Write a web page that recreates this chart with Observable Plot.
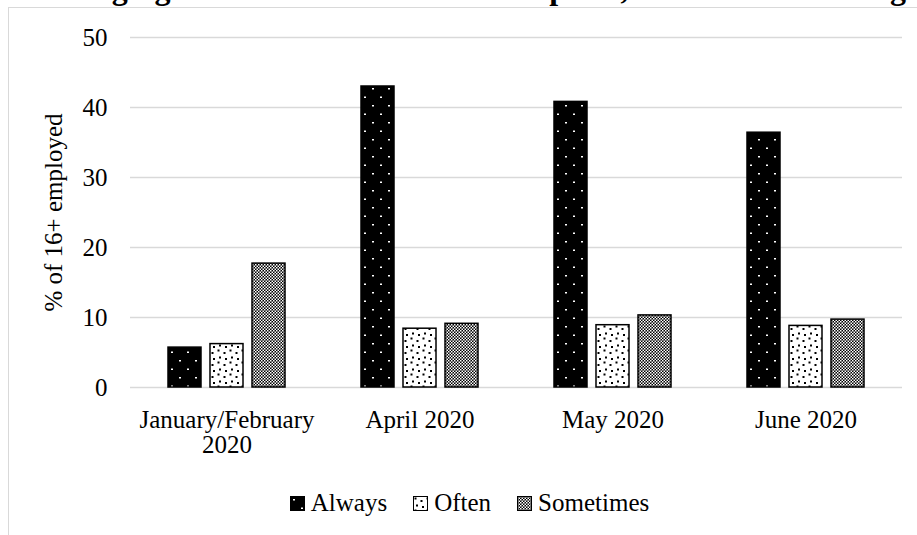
<!DOCTYPE html>
<html>
<head>
<meta charset="utf-8">
<script src="https://cdn.jsdelivr.net/npm/d3@7"></script>
<script src="https://cdn.jsdelivr.net/npm/@observablehq/plot@0.6"></script>
<style>
  html, body { margin: 0; padding: 0; background: #fff; }
  #wrap { position: relative; width: 917px; height: 535px; overflow: hidden; background: #fff;
          font-family: "Liberation Serif", "Times New Roman", serif; color: #000; }
  #title { position: absolute; left: 37px; top: -28px; white-space: nowrap; font-weight: bold;
           font-size: 32px; line-height: 32px; }
  #title .pre { position: absolute; right: 100%; top: 0; white-space: pre; }
  #frame { position: absolute; left: 8px; top: 7px; width: 1000px; height: 600px;
           border-left: 1px solid #d9d9d9; border-top: 1px solid #d9d9d9; }
  #chart { position: absolute; left: 0; top: 0; }
  #legend { position: absolute; left: 11px; width: 917px; top: 487px; display: flex;
            justify-content: center; align-items: center; font-size: 25px; line-height: 32px; }
  #legend .item { display: flex; align-items: center; margin: 0 13px; }
  #legend svg { margin-right: 6px; }
</style>
</head>
<body>
<svg width="0" height="0" style="position:absolute">
  <defs>
    <pattern id="pat-always" width="16" height="17" patternUnits="userSpaceOnUse">
      <rect width="16" height="17" fill="#000"/>
      <rect x="3" y="3" width="2" height="1.5" fill="#fff"/>
      <rect x="11" y="11.5" width="2" height="1.5" fill="#fff"/>
    </pattern>
    <pattern id="pat-often" width="12" height="12" patternUnits="userSpaceOnUse">
      <rect width="12" height="12" fill="#fff"/>
      <rect x="1.5" y="1.5" width="2" height="2" fill="#000"/>
      <rect x="7.5" y="4" width="2" height="2" fill="#000"/>
      <rect x="3" y="8.5" width="2" height="2" fill="#000"/>
      <rect x="9" y="10" width="2" height="2" fill="#000"/>
    </pattern>
    <pattern id="pat-sometimes" width="3" height="3" patternUnits="userSpaceOnUse">
      <rect width="3" height="3" fill="#000"/>
      <rect x="0" y="0" width="1.5" height="1.5" fill="#fff"/>
      <rect x="1.5" y="1.5" width="1.5" height="1.5" fill="#fff"/>
    </pattern>
  </defs>
</svg>
<div id="wrap">
  <div id="title"><span class="pre">Figure 1: </span>Changing Use of the Home as a Workplace, Home and Working Together</div>
  <div id="frame"></div>
  <div id="chart"></div>
  <div id="legend"></div>
</div>
<script>
// Survey periods, response categories and shares of employed people aged 16+ (%)
const months = ["January/February 2020", "April 2020", "May 2020", "June 2020"];
const series = ["Always", "Often", "Sometimes"];
const always = [5.7, 43.0, 40.8, 36.4];
const often = [6.2, 8.4, 8.9, 8.8];
const sometimes = [17.7, 9.1, 10.3, 9.7];
const yTicks = [0, 10, 20, 30, 40, 50];
const yLabel = "% of 16+ employed";

// Pattern fill for each response category
const patterns = ["url(#pat-always)", "url(#pat-often)", "url(#pat-sometimes)"];

const valuesBySeries = [always, often, sometimes];
const rows = months.flatMap((month, i) =>
  series.map((s, j) => ({month, series: s, value: valuesBySeries[j][i]}))
);

const chart = Plot.plot({
  width: 917,
  height: 470,
  marginTop: 37,
  marginRight: 15,
  marginBottom: 83,
  marginLeft: 130,
  style: {
    fontFamily: "'Liberation Serif', 'Times New Roman', serif",
    fontSize: "25px",
    color: "#000",
    background: "transparent",
    overflow: "visible"
  },
  fx: {domain: months, padding: 0, label: null},
  x: {domain: series, paddingInner: 0.21, paddingOuter: 0.85, axis: null},
  y: {domain: [0, 50], label: null},
  color: {domain: series, range: patterns},
  marks: [
    Plot.gridY(yTicks, {stroke: "#d9d9d9", strokeOpacity: 1, strokeWidth: 1.5}),
    Plot.barY(rows, {fx: "month", x: "series", y: "value", fill: "series", stroke: "#000", strokeWidth: 1.5}),
    Plot.axisY(yTicks, {
      tickSize: 0, tickPadding: 23, label: yLabel, labelAnchor: "center", labelOffset: 86,
      labelArrow: "none"
    }),
    Plot.axisFx({
      anchor: "bottom", tickSize: 0, tickPadding: 23, label: null, lineAnchor: "top",
      tickFormat: d => d.replace("February ", "February\n")
    })
  ]
});
document.getElementById("chart").appendChild(chart);

// Legend built from the same categories and pattern fills
const legend = d3.select("#legend");
series.forEach((s, i) => {
  const item = legend.append("div").attr("class", "item");
  const sw = item.append("svg").attr("width", 15).attr("height", 15);
  sw.append("rect").attr("x", 0.5).attr("y", 0.5).attr("width", 14).attr("height", 14)
    .attr("fill", patterns[i]).attr("stroke", "#000").attr("stroke-width", 1);
  item.append("span").text(s);
});
</script>
</body>
</html>
